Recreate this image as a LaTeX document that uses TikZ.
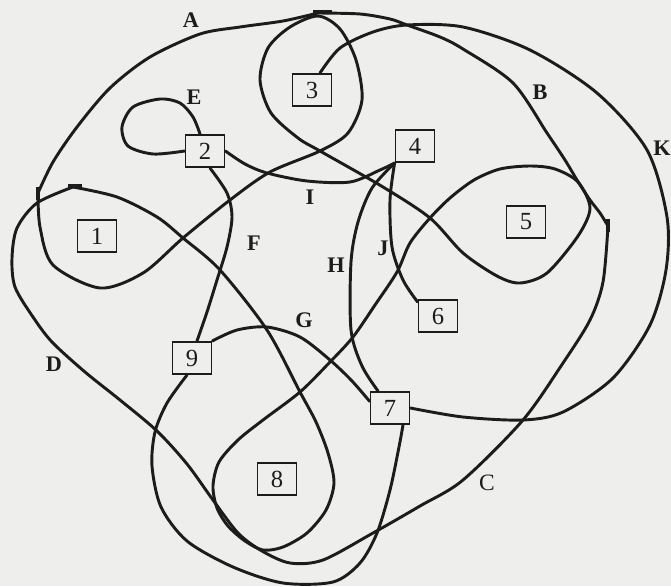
\documentclass[tikz,border=0pt]{standalone}
\usepackage{fontspec}
\setmainfont{Liberation Serif}
\definecolor{ink}{RGB}{28,28,28}
\definecolor{paper}{RGB}{238,238,236}
\begin{document}
\begin{tikzpicture}[x=0.03cm,y=-0.03cm,
  box/.style={draw=ink, line width=1.5pt, minimum width=1.17cm, minimum height=0.97cm, inner sep=0pt, font=\fontsize{21}{21}\selectfont, text=ink},
  lbl/.style={font=\bfseries\fontsize{19}{19}\selectfont, text=ink, inner sep=0pt},
  lblr/.style={font=\fontsize{20}{20}\selectfont, text=ink, inner sep=0pt},
  crv/.style={draw=ink, line width=2.5pt, line cap=round, line join=round},
  tickmark/.style={draw=ink, line width=2.8pt}]
\fill[paper] (0,0) rectangle (671,586);
\useasboundingbox (0,0) rectangle (671,586);

% boxes
\node[box] (n1) at (97,236) {1};
\node[box] (n2) at (205,151) {2};
\node[box] (n3) at (312,90) {3};
\node[box] (n4) at (415,146) {4};
\node[box] (n5) at (526,222) {5};
\node[box] (n6) at (438,316) {6};
\node[box] (n7) at (390,408) {7};
\node[box] (n8) at (277,479) {8};
\node[box] (n9) at (192,358) {9};

% attachment points
\coordinate (n2t) at ([xshift=-0.15cm]n2.north);
\coordinate (n2b) at ([xshift=0.15cm]n2.south);
\coordinate (n9t) at ([xshift=0.15cm]n9.north);
\coordinate (n9b) at ([xshift=-0.15cm]n9.south);
\coordinate (n7t) at ([xshift=-0.36cm]n7.north);
\coordinate (n7l) at ([yshift=0.2cm]n7.west);
\coordinate (n7b) at ([xshift=0.39cm]n7.south);
\coordinate (n6l) at ([yshift=-0.09cm]n6.north west);
\coordinate (n3t) at ([xshift=0.24cm]n3.north);

% E: loop at 2
\draw[crv] plot[smooth] coordinates {(n2.west) (153,154) (128,146) (122,127) (133,107) (160,99) (180,103) (193,117) (n2t)};
% F: 2 -> 9
\draw[crv] plot[smooth] coordinates {(n2b) (227,193) (232,217) (227,247) (217,280) (207,312) (n9t)};
% I: 2 -> 4
\draw[crv] plot[smooth] coordinates {(n2.east) (245,164) (267,173) (307,181) (350,182) (380,170) (n4.south west)};
% H: 4 -> 7
\draw[crv] plot[smooth] coordinates {(n4.south west) (372,188) (358,222) (351,262) (351,330) (362,366) (n7t)};
% J: 4 -> 6
\draw[crv] plot[smooth] coordinates {(n4.south west) (390,200) (392,247) (403,280) (n6l)};
% G: 9 -> 7
\draw[crv] plot[smooth] coordinates {(n9.north east) (237,330) (267,327) (300,337) (330,360) (352,381) (n7l)};
% K: 3 -> 7
\draw[crv] plot[smooth] coordinates {(n3t) (340,48) (373,32) (407,25) (463,27) (530,50) (597,93) (647,150) (667,217) (666,270) (650,325) (613,378) (563,412) (523,420) (463,417) (n7.east)};
% 9 -> 7 along the bottom
\draw[crv] plot[smooth] coordinates {(n9b) (167,403) (155,432) (152,466) (161,507) (187,541) (233,567) (283,583) (333,582) (360,563) (377,533) (390,490) (399,447) (n7b)};

% the long closed curve
\coordinate (tA) at (318,13);
\coordinate (tL) at (38,193);
\coordinate (tD) at (73,187);
\coordinate (tC) at (608,226);
% A
\draw[crv] plot[smooth] coordinates {(tA) (283,21) (240,27) (200,34) (150,57) (110,88) (77,127) (53,162) (tL)};
% loops around 1, 3, 5, 8
\draw[crv] plot[smooth] coordinates {(tL) (40,227) (53,265) (100,288) (143,273) (183,238) (230,200) (270,172) (320,151) (348,133) (362,100) (356,60) (340,29) (318,16) (290,27) (268,48) (260,80) (271,113) (298,138) (320,151) (383,187) (430,218) (463,253) (497,276) (520,283) (547,273) (578,236) (590,208) (578,182) (555,169) (530,166) (500,169) (474,180) (450,198) (430,218) (410,243) (397,272) (375,305) (353,337) (330,362) (300,392) (263,420) (238,440) (219,462) (213,486) (217,508) (228,526) (245,541) (263,550) (283,547) (307,533) (326,510) (334,483) (328,453) (316,422) (300,392) (267,330) (220,270) (183,238) (157,217) (117,197) (tD)};
% D and C
\draw[crv] plot[smooth] coordinates {(tD) (37,203) (17,228) (12,258) (15,287) (33,317) (52,342) (85,372) (120,400) (157,431) (187,464) (213,500) (238,533) (262,551) (290,563) (323,560) (373,533) (420,506) (463,480) (523,420) (563,363) (590,320) (603,282) (tC)};
% B
\draw[crv] plot[smooth] coordinates {(tC) (600,213) (590,200) (577,180) (565,160) (547,133) (513,83) (463,49) (440,37) (407,25) (390,19) (360,14) (tA)};

% tick marks
\draw[tickmark] (313,12) -- (332,12);
\draw[tickmark] (38,187) -- (38,200);
\draw[tickmark] (68,186) -- (82,186);
\draw[tickmark] (608,219) -- (608,232);

% labels
\node[lbl] (lA) at (191,20) {A};
\node[lbl] (lB) at (540,92) {B};
\node[lblr] (lC) at (487,483) {C};
\node[lbl] (lD) at (54,364) {D};
\node[lbl] (lE) at (194,97) {E};
\node[lbl] (lF) at (254,243) {F};
\node[lbl] (lG) at (304,320) {G};
\node[lbl] (lH) at (336,265) {H};
\node[lbl] (lI) at (310,197) {I};
\node[lbl] (lJ) at (383,248) {J};
\node[lbl] (lK) at (662,148) {K};
\end{tikzpicture}
\end{document}
